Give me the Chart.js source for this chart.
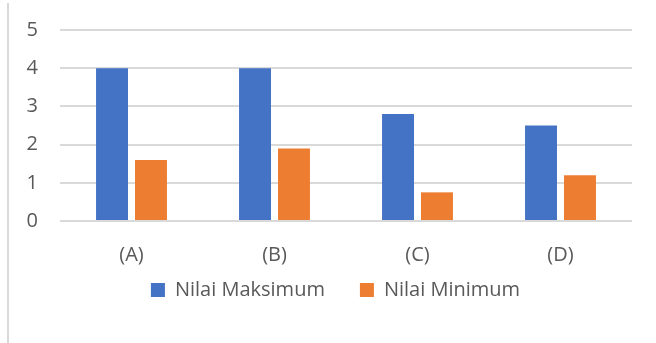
<!DOCTYPE html>
<html lang="id">
<head>
    <meta charset="UTF-8">
    <title>Nilai Maksimum dan Nilai Minimum</title>
    <style>
        body {
            margin: 0;
            background: #fff;
        }
        .frame-line {
            position: absolute;
            left: 7px;
            top: 3px;
            width: 2px;
            height: 340px;
            background: #d9d9d9;
        }
        .chart-box {
            position: absolute;
            left: 0;
            top: 0;
            width: 656px;
            height: 343px;
        }
    </style>
</head>
<body>
    <div class="frame-line"></div>
    <div class="chart-box">
        <canvas id="chart"></canvas>
    </div>

    <script src="https://cdn.jsdelivr.net/npm/chart.js"></script>
    <script>
        const categories = ['(A)', '(B)', '(C)', '(D)'];
        const nilaiMaksimum = [4, 4, 2.8, 2.5];
        const nilaiMinimum = [1.6, 1.9, 0.75, 1.2];

        const textColor = '#595959';
        const fontFamily = "'Open Sans', sans-serif";

        // move the legend up and right so it sits like the original one
        const legendShift = {
            id: 'legendShift',
            afterLayout(chart) {
                const lg = chart.legend;
                lg.top -= 22;
                lg.bottom -= 22;
                lg.left += 19.5;
                lg.right += 19.5;
            }
        };

        const ctx = document.getElementById('chart').getContext('2d');
        new Chart(ctx, {
            type: 'bar',
            data: {
                labels: categories,
                datasets: [{
                    label: 'Nilai Maksimum',
                    data: nilaiMaksimum,
                    backgroundColor: '#4472c4'
                }, {
                    label: 'Nilai Minimum',
                    data: nilaiMinimum,
                    backgroundColor: '#ed7d31'
                }]
            },
            options: {
                responsive: true,
                maintainAspectRatio: false,
                animation: false,
                categoryPercentage: 0.545,
                barPercentage: 0.82,
                layout: {
                    padding: { top: 30, left: 0, right: 24, bottom: 11 }
                },
                plugins: {
                    tooltip: { enabled: false },
                    legend: {
                        position: 'bottom',
                        labels: {
                            boxWidth: 14,
                            boxHeight: 14,
                            padding: 35,
                            color: textColor,
                            font: { family: fontFamily, size: 20 }
                        }
                    }
                },
                scales: {
                    x: {
                        grid: { display: false, drawTicks: false },
                        border: { display: false },
                        ticks: {
                            padding: 22,
                            color: textColor,
                            font: { family: fontFamily, size: 20 }
                        },
                        afterFit: function(scale) {
                            scale.height = 46;
                        }
                    },
                    y: {
                        min: 0,
                        max: 5,
                        grid: {
                            color: '#d9d9d9',
                            lineWidth: 2,
                            drawTicks: false
                        },
                        border: { display: false },
                        ticks: {
                            stepSize: 1,
                            padding: 22,
                            color: textColor,
                            font: { family: fontFamily, size: 20 }
                        },
                        afterFit: function(scale) {
                            scale.width = 60;
                            scale.paddingTop = 0;
                            scale.paddingBottom = 0;
                        }
                    }
                }
            },
            plugins: [legendShift]
        });
    </script>
</body>
</html>
